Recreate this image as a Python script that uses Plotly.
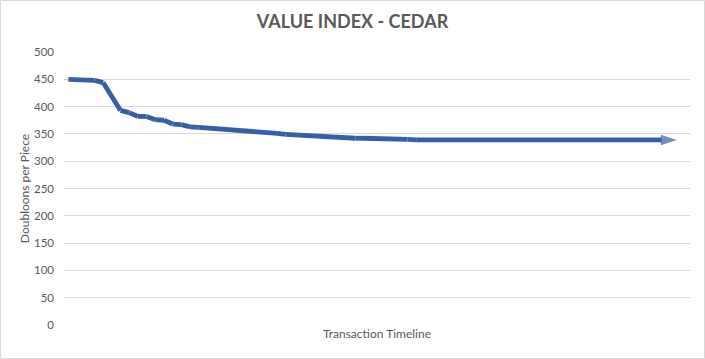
import plotly.graph_objects as go

title_text = "VALUE INDEX - CEDAR"
x_title = "Transaction Timeline"
y_title = "Doubloons per Piece"

values = [450, 450, 450, 448, 444, 418, 393, 389, 382, 382,
          376, 375, 368, 367, 363, 362, 361, 360, 359, 357,
          356, 354, 353, 353, 351, 349, 348, 346, 345, 344,
          343, 342, 342, 342, 342, 342, 342, 342, 341, 340,
          339, 339, 339, 339, 339, 339, 339, 338, 337, 337,
          337, 337, 337, 337, 337, 337, 337, 337, 337, 337,
          337, 337, 337, 337, 337, 337, 337, 338, 339, 339,
          339]
positions = list(range(len(values)))

line_color = "#3560A5"
text_color = "#595959"
grid_color = "#D9D9D9"

sizes = [0] * (len(values) - 1) + [17]

fig = go.Figure()
fig.add_trace(go.Scatter(
    x=positions, y=values, mode="lines+markers",
    line=dict(color=line_color, width=4.8),
    marker=dict(symbol="arrow", size=sizes, angleref="previous",
                color=line_color, line=dict(width=0)),
    hoverinfo="skip", showlegend=False,
))

L, R, T, B = 64, 15, 52, 34
W, H = 705, 359
pw, ph = W - L - R, H - T - B

fig.update_layout(
    width=W, height=H,
    margin=dict(l=L, r=R, t=T, b=B, pad=0, autoexpand=False),
    paper_bgcolor="white", plot_bgcolor="white",
    font=dict(family="Lato, sans-serif", color=text_color, size=12),
    title=dict(text="<b>" + title_text + "</b>", x=0.5, xanchor="center",
               y=1 - 22 / H, yanchor="middle", automargin=False,
               font=dict(size=18, color=text_color, family="Lato, sans-serif")),
    xaxis=dict(range=[-0.5, 71.5], showticklabels=False, showgrid=False,
               zeroline=False, showline=False, ticks="", automargin=False,
               title=dict(text=x_title, font=dict(size=12, color=text_color), standoff=4)),
    yaxis=dict(range=[0, 500], dtick=50, tick0=0, showgrid=True,
               gridcolor=grid_color, gridwidth=1, zeroline=False, showline=False,
               ticks="", ticklabelstandoff=9, automargin=False,
               tickfont=dict(size=11.5, color=text_color),
               title=dict(text=y_title, font=dict(size=12, color=text_color), standoff=1)),
    shapes=[dict(type="rect", xref="paper", yref="paper",
                 x0=(0.5 - L) / pw, x1=(W - 0.5 - L) / pw,
                 y0=-(B - 0.5) / ph,
                 y1=1 + (T - 0.5) / ph,
                 line=dict(color=grid_color, width=1), layer="below")],
)

fig.write_html("out.html", config={"displayModeBar": False},
               post_script="document.body.style.margin='0';document.body.style.overflow='hidden';")
